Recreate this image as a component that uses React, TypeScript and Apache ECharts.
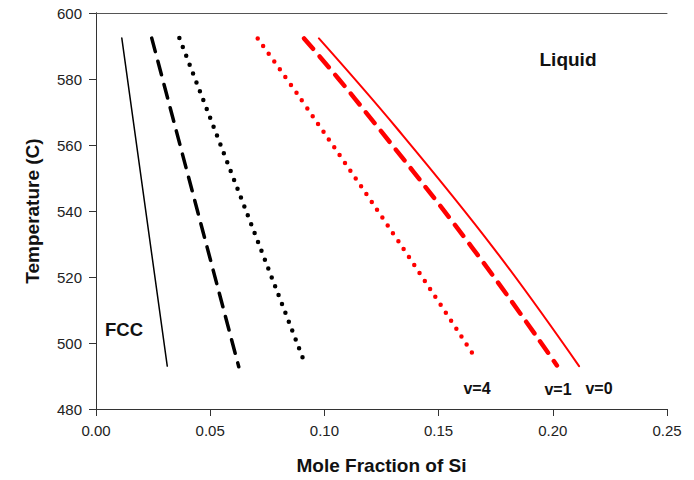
import React, { useEffect, useRef } from "react";
import * as echarts from "echarts";

// Mole fraction of Si (x) and temperature (y) for each boundary curve
const fccV0X = [0.0113, 0.0312];
const fccV0Y = [592.4, 493.0];
const fccV1X = [0.0244, 0.0625];
const fccV1Y = [592.4, 492.8];
const fccV4X = [0.0365, 0.0912];
const fccV4Y = [592.4, 494.3];
const liqV0X = [0.0976, 0.1318, 0.1738, 0.2115];
const liqV0Y = [592.3, 565.0, 529.0, 493.0];
const liqV1X = [0.0911, 0.1134, 0.1646, 0.2018];
const liqV1Y = [592.3, 574.0, 529.0, 493.2];
const liqV4X = [0.0708, 0.0901, 0.1327, 0.1659];
const liqV4Y = [592.3, 573.5, 530.5, 495.7];

const xTicks = [0.0, 0.05, 0.1, 0.15, 0.2, 0.25];
const yTicks = [480, 500, 520, 540, 560, 580, 600];

const FONT = "'Liberation Sans', Arial, sans-serif";

function pairs(xs: number[], ys: number[]) {
  return xs.map((x, i) => [x, ys[i]]);
}

export default function App() {
  const ref = useRef<HTMLDivElement>(null);
  useEffect(() => {
    if (!ref.current) return;
    const chart = echarts.init(ref.current, null, { renderer: "svg" });
    const mk = (name: string, xs: number[], ys: number[], color: string, width: number, type: any, smooth: number) => ({
      name,
      type: "line",
      data: pairs(xs, ys),
      showSymbol: false,
      symbol: "none",
      smooth,
      lineStyle: { color, width, type, cap: "round" },
      silent: true,
    });
    chart.setOption({
      animation: false,
      backgroundColor: "#ffffff",
      grid: { left: 96, top: 13, right: 27, bottom: 67 },
      xAxis: [
        {
          type: "value",
          min: xTicks[0],
          max: xTicks[xTicks.length - 1],
          interval: 0.05,
          name: "Mole Fraction of Si",
          nameLocation: "middle",
          nameGap: 47,
          nameTextStyle: { fontFamily: FONT, fontWeight: "bold", fontSize: 19, color: "#111" },
          axisLine: { show: true, lineStyle: { color: "#333", width: 1 } },
          axisTick: { show: true, inside: false, length: 7, lineStyle: { color: "#333" } },
          axisLabel: {
            fontFamily: FONT,
            fontSize: 15,
            color: "#222",
            margin: 14,
            formatter: (v: number) => v.toFixed(2),
          },
          splitLine: { show: false },
        },
        {
          type: "value",
          position: "top",
          min: xTicks[0],
          max: xTicks[xTicks.length - 1],
          axisLine: { show: true, lineStyle: { color: "#555", width: 1 } },
          axisTick: { show: false },
          axisLabel: { show: false },
          splitLine: { show: false },
        },
      ],
      yAxis: [
        {
          type: "value",
          min: yTicks[0],
          max: yTicks[yTicks.length - 1],
          interval: 20,
          name: "Temperature (C)",
          nameLocation: "middle",
          nameGap: 54,
          nameTextStyle: { fontFamily: FONT, fontWeight: "bold", fontSize: 19, color: "#111" },
          axisLine: { show: true, lineStyle: { color: "#333", width: 1 } },
          axisTick: { show: true, inside: false, length: 7, lineStyle: { color: "#333" } },
          axisLabel: { fontFamily: FONT, fontSize: 15, color: "#222", margin: 14 },
          splitLine: { show: false },
        },
        {
          type: "value",
          position: "right",
          min: yTicks[0],
          max: yTicks[yTicks.length - 1],
          axisLine: { show: true, lineStyle: { color: "#333", width: 1 } },
          axisTick: { show: false },
          axisLabel: { show: false },
          splitLine: { show: false },
        },
      ],
      series: [
        mk("FCC v=0", fccV0X, fccV0Y, "#000000", 1.5, "solid", 0),
        mk("FCC v=1", fccV1X, fccV1Y, "#000000", 3.5, [14, 10], 0),
        mk("FCC v=4", fccV4X, fccV4Y, "#000000", 4.5, [0, 9.5], 0),
        mk("Liquid v=0", liqV0X, liqV0Y, "#ff0000", 2, "solid", 0.4),
        mk("Liquid v=1", liqV1X, liqV1Y, "#ff0000", 4.5, [14, 10], 0.4),
        mk("Liquid v=4", liqV4X, liqV4Y, "#ff0000", 4.5, [0, 9.5], 0.4),
      ],
      graphic: [
        { type: "text", x: 568, y: 59, style: { text: "Liquid", font: `bold 19px ${FONT}`, fill: "#111", align: "center", verticalAlign: "middle" } },
        { type: "text", x: 124, y: 329, style: { text: "FCC", font: `bold 18.5px ${FONT}`, fill: "#111", align: "center", verticalAlign: "middle" } },
        { type: "text", x: 477, y: 388, style: { text: "v=4", font: `bold 16px ${FONT}`, fill: "#111", align: "center", verticalAlign: "middle" } },
        { type: "text", x: 558, y: 389, style: { text: "v=1", font: `bold 16px ${FONT}`, fill: "#111", align: "center", verticalAlign: "middle" } },
        { type: "text", x: 599, y: 388, style: { text: "v=0", font: `bold 16px ${FONT}`, fill: "#111", align: "center", verticalAlign: "middle" } },
      ],
    });
    return () => chart.dispose();
  }, []);
  return <div ref={ref} style={{ width: 694, height: 480, margin: -8 }} />;
}
